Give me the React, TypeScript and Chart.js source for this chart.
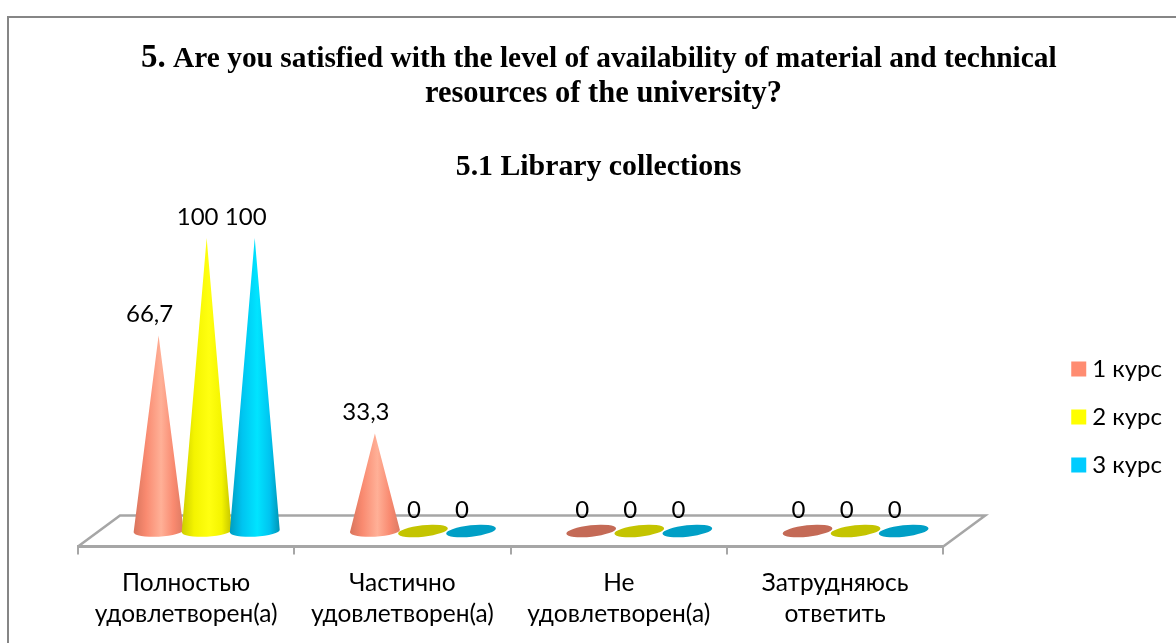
import React, { useEffect, useRef } from "react";
import { Chart, registerables } from "chart.js";

Chart.register(...registerables);

const categories = [
  ["Полностью", "удовлетворен(а)"],
  ["Частично", "удовлетворен(а)"],
  ["Не", "удовлетворен(а)"],
  ["Затрудняюсь", "ответить"],
];
const seriesNames = ["1 курс", "2 курс", "3 курс"];
const course1 = [66.7, 33.3, 0, 0];
const course2 = [100, 0, 0, 0];
const course3 = [100, 0, 0, 0];
const legendColors = ["#ff8c71", "#ffff00", "#00ccff"];
const flatColors = ["#c46a56", "#c4c400", "#009fc6"];
const shadeColors = [
  ["#d8745c", "#f98a70", "#ffb097", "#f98a70", "#dd7a62"],
  ["#cccc00", "#f4f400", "#ffff10", "#f4f400", "#c4c400"],
  ["#009cc0", "#00c4f0", "#00e4ff", "#00c4f0", "#0094b4"],
];
const titleLine1Lead = "5.";
const titleLine1 = " Are you satisfied with the level of availability of material and technical";
const titleLine2 = "resources of the university?";
const titleLine3 = "5.1 Library collections";

const LABEL_FONT = "Lato, 'Noto Sans', sans-serif";
const GREY = "#a6a6a6";
const DEPTH_X = 42;
const DEPTH_Y = 31;
const SHIFT_X = 20.5;

const conePlugin = {
  id: "cones",
  beforeDraw(chart: any) {
    const c = chart.ctx;
    c.save();
    c.fillStyle = "#ffffff";
    c.fillRect(0, 0, chart.width, chart.height);
    c.strokeStyle = "#868686";
    c.lineWidth = 2;
    c.beginPath();
    c.moveTo(8, chart.height);
    c.lineTo(8, 17);
    c.lineTo(chart.width, 17);
    c.stroke();

    c.fillStyle = "#000";
    c.textBaseline = "alphabetic";
    c.textAlign = "left";
    const big = "bold 33px 'Liberation Serif'";
    const norm = "bold 29.4px 'Liberation Serif'";
    c.font = big;
    c.fillText(titleLine1Lead, 141, 67);
    const w0 = c.measureText(titleLine1Lead).width;
    c.font = norm;
    c.fillText(titleLine1, 141 + w0, 67);
    c.textAlign = "center";
    c.font = "bold 30.5px 'Liberation Serif'";
    c.fillText(titleLine2, 603.5, 102);
    c.font = "bold 29.8px 'Liberation Serif'";
    c.fillText(titleLine3, 598.5, 175);
    c.restore();
  },
  beforeDatasetsDraw(chart: any) {
    const c = chart.ctx;
    const xs = chart.scales.x;
    const ys = chart.scales.y;
    const bottom = chart.chartArea.bottom;
    c.save();
    c.strokeStyle = GREY;
    c.lineWidth = 2.5;
    c.beginPath();
    c.moveTo(xs.left, bottom);
    c.lineTo(xs.left + DEPTH_X, bottom - DEPTH_Y);
    c.lineTo(xs.right + DEPTH_X, bottom - DEPTH_Y);
    c.lineTo(xs.right, bottom);
    c.stroke();

    const zero = ys.getPixelForValue(0);
    const rx = 25;
    const ry = 5.7;
    const tilt = -0.055;
    chart.data.datasets.forEach((ds: any, i: number) => {
      chart.getDatasetMeta(i).data.forEach((el: any, j: number) => {
        const cx = el.x + SHIFT_X;
        const top = el.y;
        if (ds.data[j] === 0) {
          c.fillStyle = flatColors[i];
          c.beginPath();
          c.ellipse(cx, zero, rx, ry, tilt * 2, 0, Math.PI * 2);
          c.fill();
          return;
        }
        const g = c.createLinearGradient(cx - rx, 0, cx + rx, 0);
        const stops = [0, 0.25, 0.55, 0.8, 1];
        stops.forEach((s, k) => g.addColorStop(s, shadeColors[i][k]));
        c.fillStyle = g;
        c.beginPath();
        c.moveTo(cx, top);
        c.lineTo(cx + rx, zero - 1);
        c.ellipse(cx, zero, rx, ry, tilt, 0, Math.PI);
        c.closePath();
        c.fill();
      });
    });
    c.restore();
    return false;
  },
  afterDraw(chart: any) {
    const c = chart.ctx;
    c.save();
    c.fillStyle = "#000";
    c.font = `24px ${LABEL_FONT}`;
    c.textAlign = "center";
    c.textBaseline = "middle";
    chart.data.datasets.forEach((ds: any, i: number) => {
      chart.getDatasetMeta(i).data.forEach((el: any, j: number) => {
        const text = String(ds.data[j]).replace(".", ",");
        c.fillText(text, el.x + SHIFT_X - 9, el.y - 21);
      });
    });
    c.restore();
  },
};

export default function App() {
  const ref = useRef<HTMLCanvasElement | null>(null);
  useEffect(() => {
    const chart = new Chart(ref.current as HTMLCanvasElement, {
      type: "bar",
      data: {
        labels: categories,
        datasets: [course1, course2, course3].map((data, i) => ({
          label: seriesNames[i],
          data,
          backgroundColor: legendColors[i],
          borderColor: legendColors[i],
          borderWidth: 12,
          barPercentage: 1,
          categoryPercentage: 2 / 3,
        })),
      },
      options: {
        responsive: false,
        animation: false,
        layout: { padding: { top: 191, right: 4, left: 0, bottom: 0 } },
        plugins: {
          title: { display: false },
          tooltip: { enabled: false },
          legend: {
            position: "right",
            labels: {
              boxWidth: 3,
              boxHeight: 3,
              padding: 24,
              color: "#000",
              font: { family: LABEL_FONT, size: 24 },
            },
          },
        },
        scales: {
          x: {
            grid: {
              drawOnChartArea: false,
              drawTicks: true,
              tickLength: 8,
              color: GREY,
              lineWidth: 2,
              offset: true,
            },
            border: { color: GREY, width: 3 },
            ticks: {
              color: "#000",
              padding: 13,
              maxRotation: 0,
              autoSkip: false,
              font: { family: LABEL_FONT, size: 24.5, lineHeight: 1.27 },
            },
            afterFit: (s: any) => {
              s.height = 96.5;
            },
          },
          y: {
            min: -5.29,
            max: 116.04,
            grid: { display: false },
            border: { display: false },
            ticks: { display: false },
            afterFit: (s: any) => {
              s.width = 78;
            },
          },
          spacer: {
            position: "right",
            grid: { display: false },
            border: { display: false },
            ticks: { display: false },
            afterFit: (s: any) => {
              s.width = 110;
            },
          },
        },
      } as any,
      plugins: [conePlugin as any],
    });
    return () => chart.destroy();
  }, []);
  return (
    <canvas
      ref={ref}
      width={1176}
      height={643}
      style={{ position: "absolute", left: 0, top: 0, width: 1176, height: 643 }}
    />
  );
}
